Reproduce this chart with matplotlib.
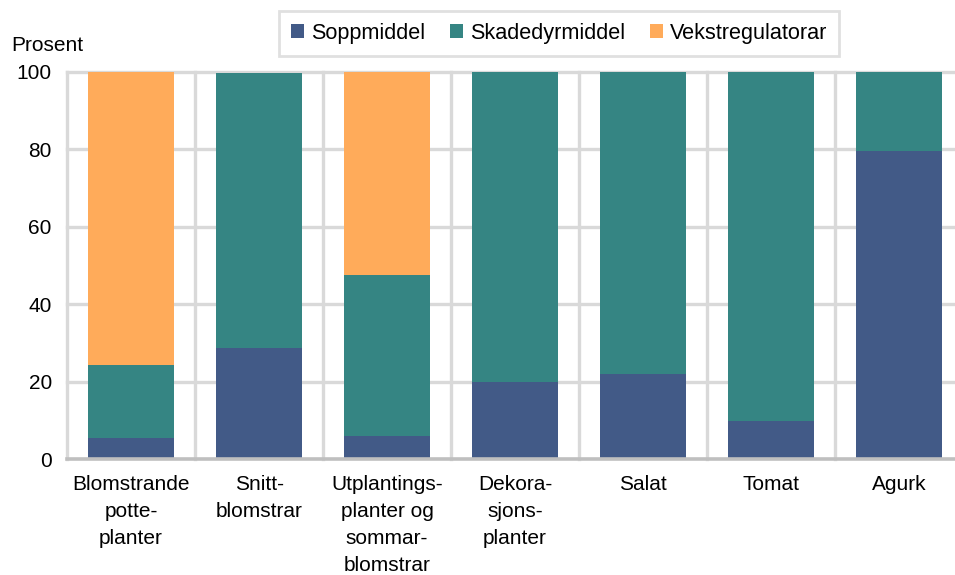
import numpy as np
import matplotlib.pyplot as plt

plt.rcParams['font.family'] = ['Liberation Sans', 'DejaVu Sans']

categories = ['Blomstrande\npotte-\nplanter', 'Snitt-\nblomstrar',
              'Utplantings-\nplanter og\nsommar-\nblomstrar', 'Dekora-\nsjons-\nplanter',
              'Salat', 'Tomat', 'Agurk']
soppmiddel = [5.4, 28.6, 6.0, 19.9, 21.9, 10.0, 79.5]
skadedyrmiddel = [18.9, 71.0, 41.6, 80.1, 78.1, 90.0, 20.5]
vekstregulatorar = [75.7, 0.0, 52.4, 0.0, 0.0, 0.0, 0.0]

colors = ['#425a87', '#358583', '#ffab5a']
grid_col = '#d9d9d9'

fig = plt.figure(figsize=(9.55, 5.75), dpi=100)
ax = fig.add_axes([0.0702, 0.2012, 0.930, 0.6744])

x = np.arange(len(categories))
width = 0.67
bottom = np.zeros(len(categories))
for vals, col, name in zip([soppmiddel, skadedyrmiddel, vekstregulatorar], colors,
                           ['Soppmiddel', 'Skadedyrmiddel', 'Vekstregulatorar']):
    ax.bar(x, vals, width, bottom=bottom, color=col, label=name, zorder=3)
    bottom += np.array(vals)

ax.set_xlim(-0.5, 6.4375)
ax.set_ylim(0, 100)

# horizontal grid lines and vertical separators between categories
for yv in range(20, 101, 20):
    ax.axhline(yv, color=grid_col, lw=2.4, zorder=1, clip_on=False)
for xv in np.arange(-0.5, 6.0, 1.0):
    ax.axvline(xv, color=grid_col, lw=2.4, zorder=1, clip_on=False)
ax.axhline(0, color='#bfbfbf', lw=2.6, zorder=4, clip_on=False)

for s in ax.spines.values():
    s.set_visible(False)

ax.set_yticks(range(0, 101, 20))
ax.set_xticks(x)
ax.set_xticklabels(categories, fontsize=15, linespacing=1.55, va='top')
ax.tick_params(axis='both', length=0, labelsize=15, colors='black')
ax.tick_params(axis='x', pad=11)
ax.tick_params(axis='y', pad=11)

fig.text(0.012, 0.921, 'Prosent', fontsize=15, ha='left', va='center')

leg = ax.legend(loc='center', bbox_to_anchor=(0.554, 1.098), ncol=3, fontsize=15.6,
                frameon=True, fancybox=False, edgecolor=grid_col,
                handlelength=0.62, handleheight=0.62, handletextpad=0.3,
                columnspacing=1.15, borderpad=0.55)
leg.get_frame().set_linewidth(2)

fig.savefig('out.png', dpi=100)
